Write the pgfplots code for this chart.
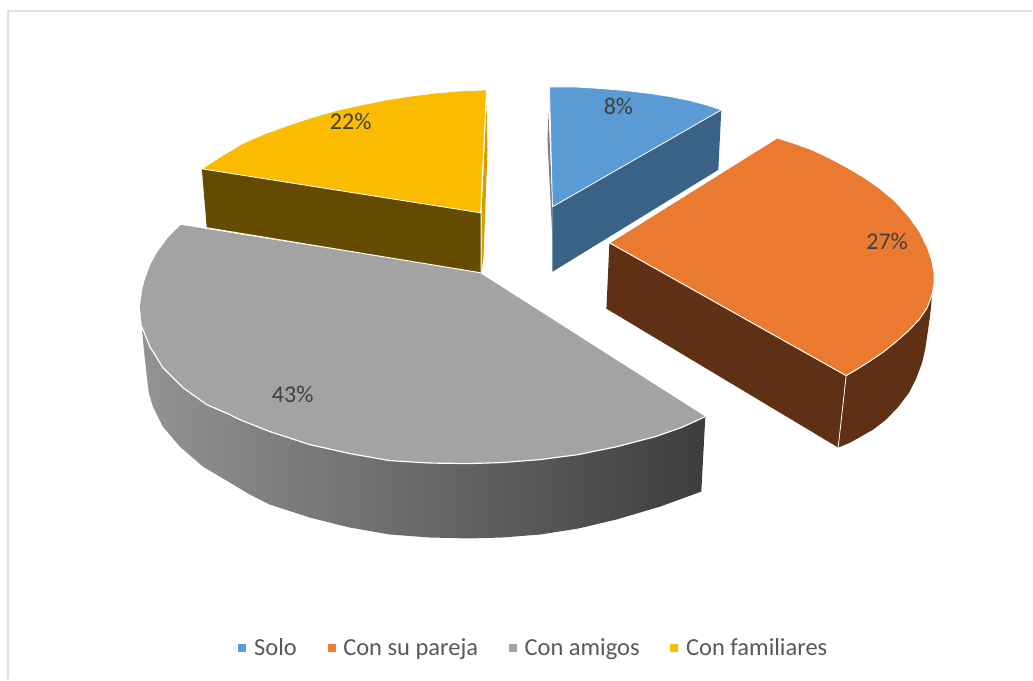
\documentclass[border=0pt]{standalone}
\usepackage{pgfplots}
\usepackage{fontspec}
\setmainfont{Carlito}
\pgfplotsset{compat=1.18}
\definecolor{cblue}{HTML}{5B9BD5}
\definecolor{cblued}{HTML}{3A6186}
\definecolor{corange}{HTML}{ED7D31}
\definecolor{corangetop}{HTML}{E97A30}
\definecolor{corangeD}{HTML}{5F3013}
\definecolor{cgray}{HTML}{A3A3A3}
\definecolor{cgold}{HTML}{FBBC00}
\definecolor{cgoldd}{HTML}{654B00}
\definecolor{clab}{HTML}{404040}
\definecolor{cleg}{HTML}{595959}
\definecolor{cframe}{HTML}{E0E0E0}
\definecolor{gL}{HTML}{939393}
\definecolor{gM}{HTML}{696969}
\definecolor{gR}{HTML}{3D3D3D}
\begin{document}
\begin{tikzpicture}
\begin{axis}[
  scale only axis, width=1033pt, height=680pt,
  xmin=0, xmax=1033, ymin=0, ymax=680, y dir=reverse,
  hide axis, clip=false,
  legend columns=4,
  legend style={at={(axis cs:534.5,648)}, anchor=center, draw=none, fill=none,
    font=\fontsize{24.5}{27}\selectfont, text=cleg,
    /tikz/every even column/.append style={column sep=29pt},
    /tikz/every odd column/.append style={column sep=6.5pt}},
]
% page extent
\addplot[draw=none, forget plot] coordinates {(0,0) (1033,680)};
% frame
\addplot[draw=cframe, line width=2pt, forget plot] coordinates {(8,680) (8,11.5) (1033,11.5)};
% yellow side + sliver
\addplot[fill=cgoldd, draw=none, forget plot] coordinates {(202,169) (481,213) (481,274) (207,228)} --cycle;
\addplot[fill=cgold!85!black, draw=none, forget plot] coordinates {(487,105) (488,150) (484,257) (482,274) (482,213)} --cycle;
% yellow top
\addplot[fill=cgold, draw=white, line width=0.8pt, forget plot] coordinates {(487,90) (462,91) (437,93) (412,96) (387,100) (362,105) (337,110.5) (311,118) (287,126) (265,134) (243,143.5) (222,156) (202,169) (481,213)} --cycle;
% blue
\addplot[fill=gray, draw=none, forget plot] coordinates {(549,113) (548,140) (553,240) (553,207)} --cycle;
\addplot[fill=cblued, draw=none, forget plot] coordinates {(553,207) (722,110) (719,170) (553,272)} --cycle;
\addplot[fill=cblue, draw=white, line width=0.8pt, forget plot] coordinates {(550,87) (575,87) (600,88.5) (625,90.5) (650,93.5) (670,96.5) (690,100.5) (707,105) (722,110) (553,207)} --cycle;
% orange
\addplot[fill=corangeD, draw=none, forget plot] coordinates {(610,243) (847,376) (839,448) (607,309)} --cycle;
\addplot[fill=corangeD, draw=none, forget plot] coordinates {(847,376) (870,362) (897,342) (920,320) (933,295) (931,316) (928,337) (926,350) (923,363) (917,379) (910,393) (899,407.5) (887,420) (874,430) (860,438) (850,443.5) (839,448)} --cycle;
\addplot[draw=white, line width=0.8pt, forget plot] coordinates {(847,376) (839,448)};
\addplot[fill=corangetop, draw=white, line width=1pt, forget plot] coordinates {(778,138) (795,143.5) (813,150) (830,158) (847,167) (864,177) (880,188) (896,201.5) (910,217) (920,231) (928,247) (932.5,260) (935,273) (935,284) (933,295) (928,308) (920,320) (909,331.5) (897,342) (884,352.5) (870,362) (858,369.5) (847,376) (610,243)} --cycle;
% gray
\addplot[draw=none, left color=gL, middle color=gM, right color=gR, forget plot] coordinates {(142,327) (150,347) (163,368) (183,388) (207,405) (230,415) (270,432) (350,454) (430,463) (503,463) (579,455) (656,437) (706,417) (702,492) (661,507) (617,520) (579,529) (541,535) (503,538) (470,539) (430,538) (390,535) (350,528) (310,518) (270,505) (250,495) (230,483) (203,467) (180,447) (163,427) (153,407) (149,393) (147,377) (144,350)} --cycle;
\addplot[fill=cgray, draw=none, forget plot] coordinates {(181,225) (168,238) (157,253) (150,266) (145,280) (142,292) (140,307) (141,317) (142,327) (150,347) (163,368) (183,388) (207,405) (230,415) (240,420) (270,432) (310,445) (350,454) (390,461) (430,463.5) (470,464) (503,463) (541,460) (579,455) (618,447) (656,437) (682,428) (706,417) (480,273)} --cycle;
\addplot[draw=white, line width=1.2pt, forget plot] coordinates {(142,327) (150,347) (163,368) (183,388) (207,405) (230,415) (240,420) (270,432) (310,445) (350,454) (390,461) (430,463.5) (470,464) (503,463) (541,460) (579,455) (618,447) (656,437) (682,428) (706,417)};
\addplot[draw=white, line width=1pt, forget plot] coordinates {(207,228) (481,273)};
% legend
\addlegendimage{only marks, mark=square*, mark size=3.5pt, color=cblue}
\addlegendentry{Solo}
\addlegendimage{only marks, mark=square*, mark size=3.5pt, color=corange}
\addlegendentry{Con su pareja}
\addlegendimage{only marks, mark=square*, mark size=3.5pt, color=cgray}
\addlegendentry{Con amigos}
\addlegendimage{only marks, mark=square*, mark size=3.5pt, color=cgold}
\addlegendentry{Con familiares}
% labels
\node[text=clab, font=\fontsize{24}{27}\selectfont] at (axis cs:619,107) {8\%};
\node[text=clab, font=\fontsize{24}{27}\selectfont] at (axis cs:888,242) {27\%};
\node[text=clab, font=\fontsize{24}{27}\selectfont] at (axis cs:293,395) {43\%};
\node[text=clab, font=\fontsize{24}{27}\selectfont] at (axis cs:351,122) {22\%};
\end{axis}
\end{tikzpicture}
\end{document}
